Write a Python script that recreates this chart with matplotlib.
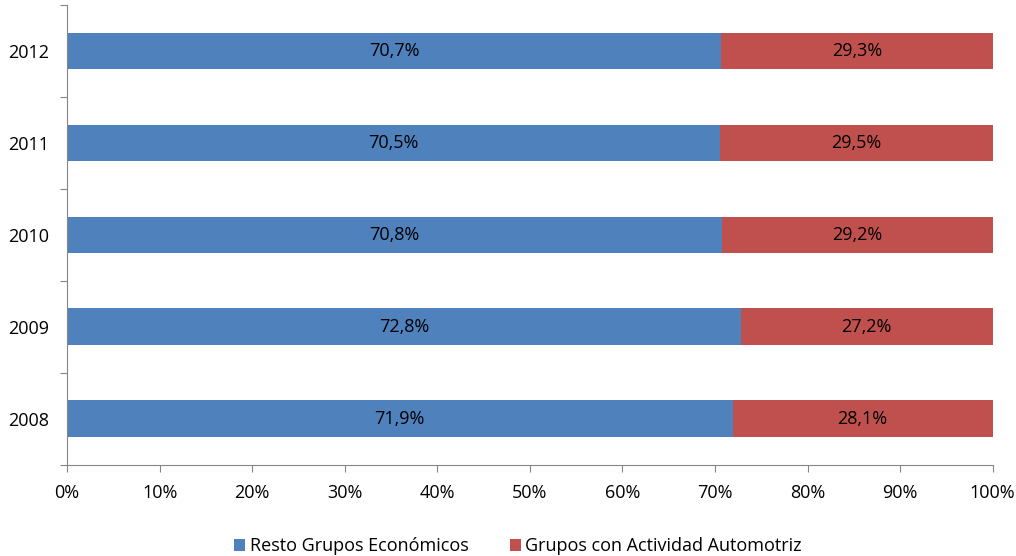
import matplotlib.pyplot as plt
import numpy as np
from matplotlib.ticker import FixedLocator, FuncFormatter

years = ["2008", "2009", "2010", "2011", "2012"]
resto = [71.9, 72.8, 70.8, 70.5, 70.7]
automotriz = [28.1, 27.2, 29.2, 29.5, 29.3]
series_names = ["Resto Grupos Económicos", "Grupos con Actividad Automotriz"]

plt.rcParams["font.family"] = ["Open Sans", "DejaVu Sans"]
plt.rcParams["font.size"] = 13

fig = plt.figure(figsize=(10.16, 5.56), dpi=100)
ax = fig.add_axes([0.066, 0.164, 0.911, 0.827])

y = np.arange(len(years))
b1 = ax.barh(y, resto, height=0.4, color="#4F81BD", label=series_names[0])
b2 = ax.barh(y, automotriz, left=resto, height=0.4, color="#C0504D", label=series_names[1])

fmt = lambda v: f"{v:.1f}%".replace(".", ",")
ax.bar_label(b1, labels=[fmt(v) for v in resto], label_type="center", color="black")
ax.bar_label(b2, labels=[fmt(v) for v in automotriz], label_type="center", color="black")

ax.set_xlim(0, 100)
ax.set_ylim(-0.5, len(years) - 0.5)
ax.set_xticks(np.arange(0, 101, 10))
ax.xaxis.set_major_formatter(FuncFormatter(lambda v, p: f"{v:.0f}%"))

# category labels centered, ticks at the boundaries
ax.yaxis.set_major_locator(FixedLocator(np.arange(-0.5, len(years), 1.0)))
ax.yaxis.set_major_formatter(FuncFormatter(lambda v, p: ""))
ax.yaxis.set_minor_locator(FixedLocator(y))
ax.set_yticklabels(years, minor=True)
ax.tick_params(axis="y", which="minor", length=0, pad=13)
ax.tick_params(axis="y", which="major", length=5, color="#868686")
ax.tick_params(axis="x", length=5, color="#868686", pad=9)

for side in ["top", "right"]:
    ax.spines[side].set_visible(False)
for side in ["left", "bottom"]:
    ax.spines[side].set_color("#868686")

fig.legend(handles=[b1, b2], loc="lower center", ncol=2, frameon=False,
           bbox_to_anchor=(0.51, -0.028), handlelength=0.6, handleheight=0.6,
           handletextpad=0.25, columnspacing=2.3)

fig.savefig("out.png", dpi=100)
